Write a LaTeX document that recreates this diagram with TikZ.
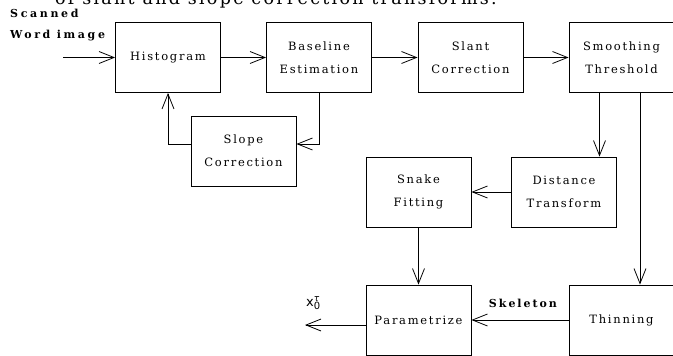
\documentclass[tikz,border=0pt]{standalone}
\usepackage{fontspec}
\usetikzlibrary{arrows.meta}
\newfontfamily\labfont[LetterSpace=15]{DejaVu Serif}
\newfontfamily\boldlab[LetterSpace=18]{DejaVu Serif Bold}
\newfontfamily\wordlab[LetterSpace=24]{DejaVu Serif Bold}
\newfontfamily\topfont[LetterSpace=13]{DejaVu Serif}
\newfontfamily\symfont{DejaVu Sans}
\begin{document}
\begin{tikzpicture}[x=1pt,y=-1pt,
  box/.style={draw, line width=0.8pt, rectangle, minimum width=105pt, minimum height=70pt, inner sep=0pt,
    align=center, font={\labfont\fontsize{11.5}{23}\selectfont}},
  arr/.style={line width=0.8pt, -{Straight Barb[length=15pt,width=12pt,line width=0.8pt]}},
  lbl/.style={font={\boldlab\fontsize{11}{12}\selectfont}, inner sep=0pt}]
\useasboundingbox (0,0) rectangle (673,356);
\clip (0,0) rectangle (673,356);
\node[font={\topfont\fontsize{17.5}{20}\selectfont}, anchor=base west, inner sep=0pt] (top) at (55,5) {of slant and slope correction transforms.};
\node[box] (hist) at (168,57.5) {Histogram};
\node[box] (base) at (319,57.5) {Baseline\\Estimation};
\node[box] (slant) at (470.5,57.5) {Slant\\Correction};
\node[box] (smooth) at (621.5,57.5) {Smoothing\\Threshold};
\node[box] (slope) at (243.5,151) {Slope\\Correction};
\node[box] (snake) at (418.5,192) {Snake\\Fitting};
\node[box] (dist) at (564,192) {Distance\\Transform};
\node[box] (param) at (418.5,320) {Parametrize};
\node[box] (thin) at (621.5,320) {Thinning};
\node[lbl, font={\wordlab\fontsize{11}{12}\selectfont}, anchor=base west] (scan) at (10,17) {Scanned};
\node[lbl, font={\wordlab\fontsize{11}{12}\selectfont}, anchor=base west] (word) at (10,38) {Word image};
\node[lbl, anchor=base] (skel) at (523,307.5) {Skeleton};
\node[inner sep=0pt, anchor=base west] (xo) at (306,306) {\fontsize{13}{14}\symfont x\rlap{\raisebox{-3pt}{\fontsize{10}{10}\selectfont 0}}\raisebox{5pt}{\fontsize{9}{9}\selectfont\itshape τ}};
\coordinate (in) at (63,57.5);
\coordinate (out) at (305,325);
\draw[arr] (in) -- (hist.west);
\draw[arr] (hist) -- (base);
\draw[arr] (base) -- (slant);
\draw[arr] (slant) -- (smooth);
\draw[arr] (base.south) |- ([yshift=7pt]slope.east);
\draw[arr] ([yshift=7pt]slope.west) -| (hist.south);
\draw[arr] ([xshift=-22pt]smooth.south) -- ([xshift=-22pt]smooth.south |- dist.north);
\draw[arr] ([xshift=18.5pt]smooth.south) -- ([xshift=18.5pt]thin.north);
\draw[arr] (dist) -- (snake);
\draw[arr] (snake) -- (param);
\draw[arr] (thin) -- (param);
\draw[arr] ([yshift=-5pt]param.west) -- (out);
\end{tikzpicture}
\end{document}
